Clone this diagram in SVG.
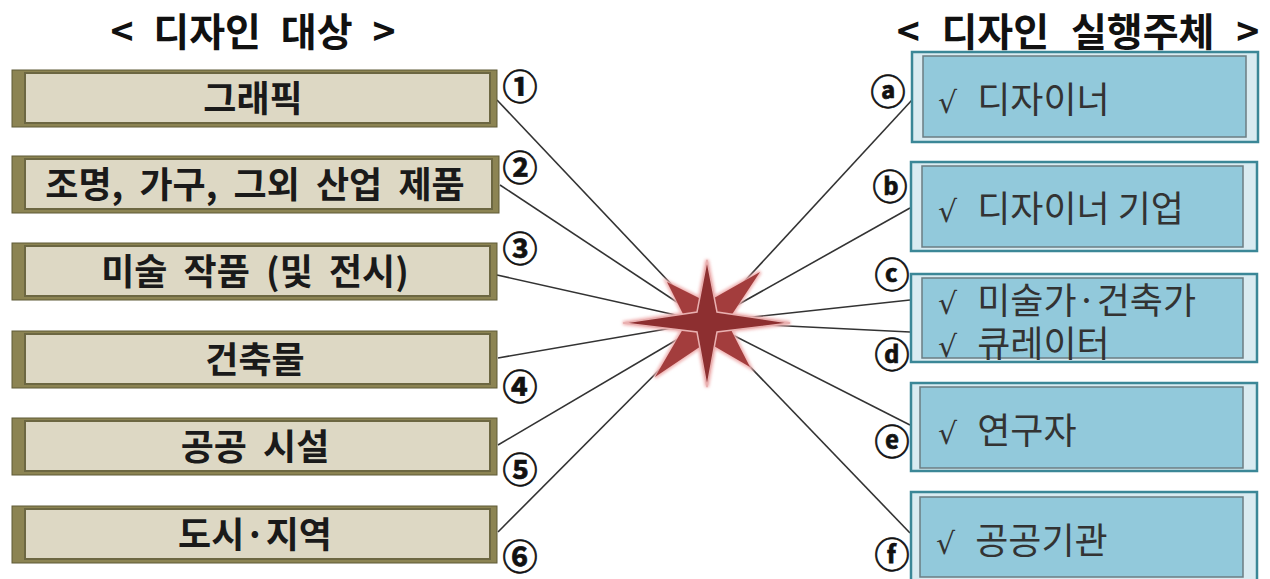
<svg xmlns="http://www.w3.org/2000/svg" width="1270" height="579" viewBox="0 0 1270 579">
<style>
.title{font-family:"Noto Sans CJK KR","Noto Sans",sans-serif;font-weight:bold;font-size:39px;fill:#111;text-anchor:middle;word-spacing:11px;}
.lbl{font-family:"Noto Sans CJK KR","Noto Sans",sans-serif;font-weight:bold;font-size:36px;fill:#1a1a1a;text-anchor:middle;word-spacing:8px;}
.rl{font-family:"Noto Sans CJK KR","Noto Sans",sans-serif;font-size:36px;fill:#333;}
.ck{font-family:"DejaVu Sans",sans-serif;font-size:30px;}
.num{font-family:"Noto Sans CJK KR","Noto Sans",sans-serif;font-weight:bold;font-size:35px;fill:#111;stroke:#111;stroke-width:0.7;text-anchor:middle;}
.lo{fill:#8c8453;stroke:#5f5a36;stroke-width:1;}
.li{fill:#ddd8c4;stroke:#6c6742;stroke-width:2;}
.ro{fill:#d9ebf1;stroke:#3b8797;stroke-width:2.5;}
.ri{fill:#92c9db;stroke:#6b7d83;stroke-width:1.5;}
.con line{stroke:#333;stroke-width:1.6;}
</style>
<defs>
<filter id="glow" x="-20%" y="-20%" width="140%" height="140%"><feGaussianBlur stdDeviation="1.8"/></filter>
</defs>
<rect width="1270" height="579" fill="#fff"/>
<text class="title" x="253" y="46">&lt; 디자인 대상 &gt;</text>
<text class="title" x="1078" y="46" style="word-spacing:13px">&lt; 디자인 실행주체 &gt;</text>

<g id="connectors" class="con">
<line x1="497" y1="100" x2="707" y2="322"/>
<line x1="500" y1="185" x2="707" y2="322"/>
<line x1="497" y1="275" x2="707" y2="322"/>
<line x1="498" y1="358" x2="707" y2="322"/>
<line x1="498" y1="445" x2="707" y2="322"/>
<line x1="498" y1="532" x2="707" y2="322"/>
<line x1="912" y1="100" x2="707" y2="322"/>
<line x1="910" y1="208" x2="707" y2="322"/>
<line x1="910" y1="300" x2="707" y2="322"/>
<line x1="910" y1="332" x2="707" y2="322"/>
<line x1="910" y1="425" x2="707" y2="322"/>
<line x1="910" y1="533" x2="707" y2="322"/>
</g>

<g id="star">
<g filter="url(#glow)" fill="#f0b4b4" stroke="#f0b4b4" stroke-width="4">
<path d="M667,282 L707,302 L760,272 L727,322 L750,367 L707,342 L655,377 L687,322 Z"/>
<path d="M707,260 L717,312 L790,323 L717,332 L707,387 L697,332 L623,323 L697,312 Z"/>
</g>
<path d="M667,282 L707,302 L760,272 L727,322 L750,367 L707,342 L655,377 L687,322 Z" fill="#a33d3d"/>
<path d="M707,260 L717,312 L790,323 L717,332 L707,387 L697,332 L623,323 L697,312 Z" fill="#8d2f30" stroke="#e9b0b0" stroke-width="1.5"/>
</g>

<g id="n1"><rect class="lo" x="12" y="70" width="485" height="57"/><rect class="li" x="25" y="73" width="465" height="50"/><text class="lbl" x="253" y="112">그래픽</text></g>
<g id="n2"><rect class="lo" x="12" y="156" width="487" height="57"/><rect class="li" x="25" y="159" width="467" height="50"/><text class="lbl" x="255" y="198">조명, 가구, 그외 산업 제품</text></g>
<g id="n3"><rect class="lo" x="12" y="243" width="485" height="57"/><rect class="li" x="25" y="246" width="465" height="50"/><text class="lbl" x="255" y="285">미술 작품 (및 전시)</text></g>
<g id="n4"><rect class="lo" x="12" y="331" width="485" height="57"/><rect class="li" x="25" y="334" width="465" height="50"/><text class="lbl" x="255" y="373">건축물</text></g>
<g id="n5"><rect class="lo" x="12" y="418" width="485" height="57"/><rect class="li" x="25" y="421" width="465" height="50"/><text class="lbl" x="255" y="460">공공 시설</text></g>
<g id="n6"><rect class="lo" x="12" y="506" width="485" height="57"/><rect class="li" x="25" y="509" width="465" height="50"/><text class="lbl" x="255" y="548">도시·지역</text></g>

<g id="nums">
<text class="num" x="520" y="100">①</text>
<text class="num" x="520" y="181">②</text>
<text class="num" x="520" y="262">③</text>
<text class="num" x="520" y="400">④</text>
<text class="num" x="520" y="483">⑤</text>
<text class="num" x="520" y="570">⑥</text>
</g>

<g id="na"><rect class="ro" x="912" y="52" width="346" height="90"/><rect class="ri" x="923" y="56" width="323" height="81"/><text class="rl" x="938" y="113"><tspan class="ck">√</tspan><tspan dx="12"> 디자이너</tspan></text></g>
<g id="nb"><rect class="ro" x="911" y="162" width="346" height="89"/><rect class="ri" x="922" y="166" width="321" height="81"/><text class="rl" x="938" y="222"><tspan class="ck">√</tspan><tspan dx="12"> 디자이너 기업</tspan></text></g>
<g id="nc"><rect class="ro" x="911" y="274" width="346" height="88"/><rect class="ri" x="922" y="278" width="321" height="80"/><text class="rl" x="938" y="314"><tspan class="ck">√</tspan><tspan dx="12"> 미술가·건축가</tspan></text><text class="rl" x="938" y="357"><tspan class="ck">√</tspan><tspan dx="12"> 큐레이터</tspan></text></g>
<g id="ne"><rect class="ro" x="911" y="383" width="346" height="88"/><rect class="ri" x="920" y="387" width="323" height="81"/><text class="rl" x="938" y="444"><tspan class="ck">√</tspan><tspan dx="12"> 연구자</tspan></text></g>
<g id="nf"><rect class="ro" x="911" y="492" width="346" height="92"/><rect class="ri" x="920" y="497" width="323" height="80"/><text class="rl" x="936" y="554"><tspan class="ck">√</tspan><tspan dx="12"> 공공기관</tspan></text></g>

<g id="letters">
<text class="num" x="888" y="105">ⓐ</text>
<text class="num" x="890" y="200">ⓑ</text>
<text class="num" x="892" y="288">ⓒ</text>
<text class="num" x="892" y="368">ⓓ</text>
<text class="num" x="892" y="455">ⓔ</text>
<text class="num" x="892" y="568">ⓕ</text>
</g>
</svg>
